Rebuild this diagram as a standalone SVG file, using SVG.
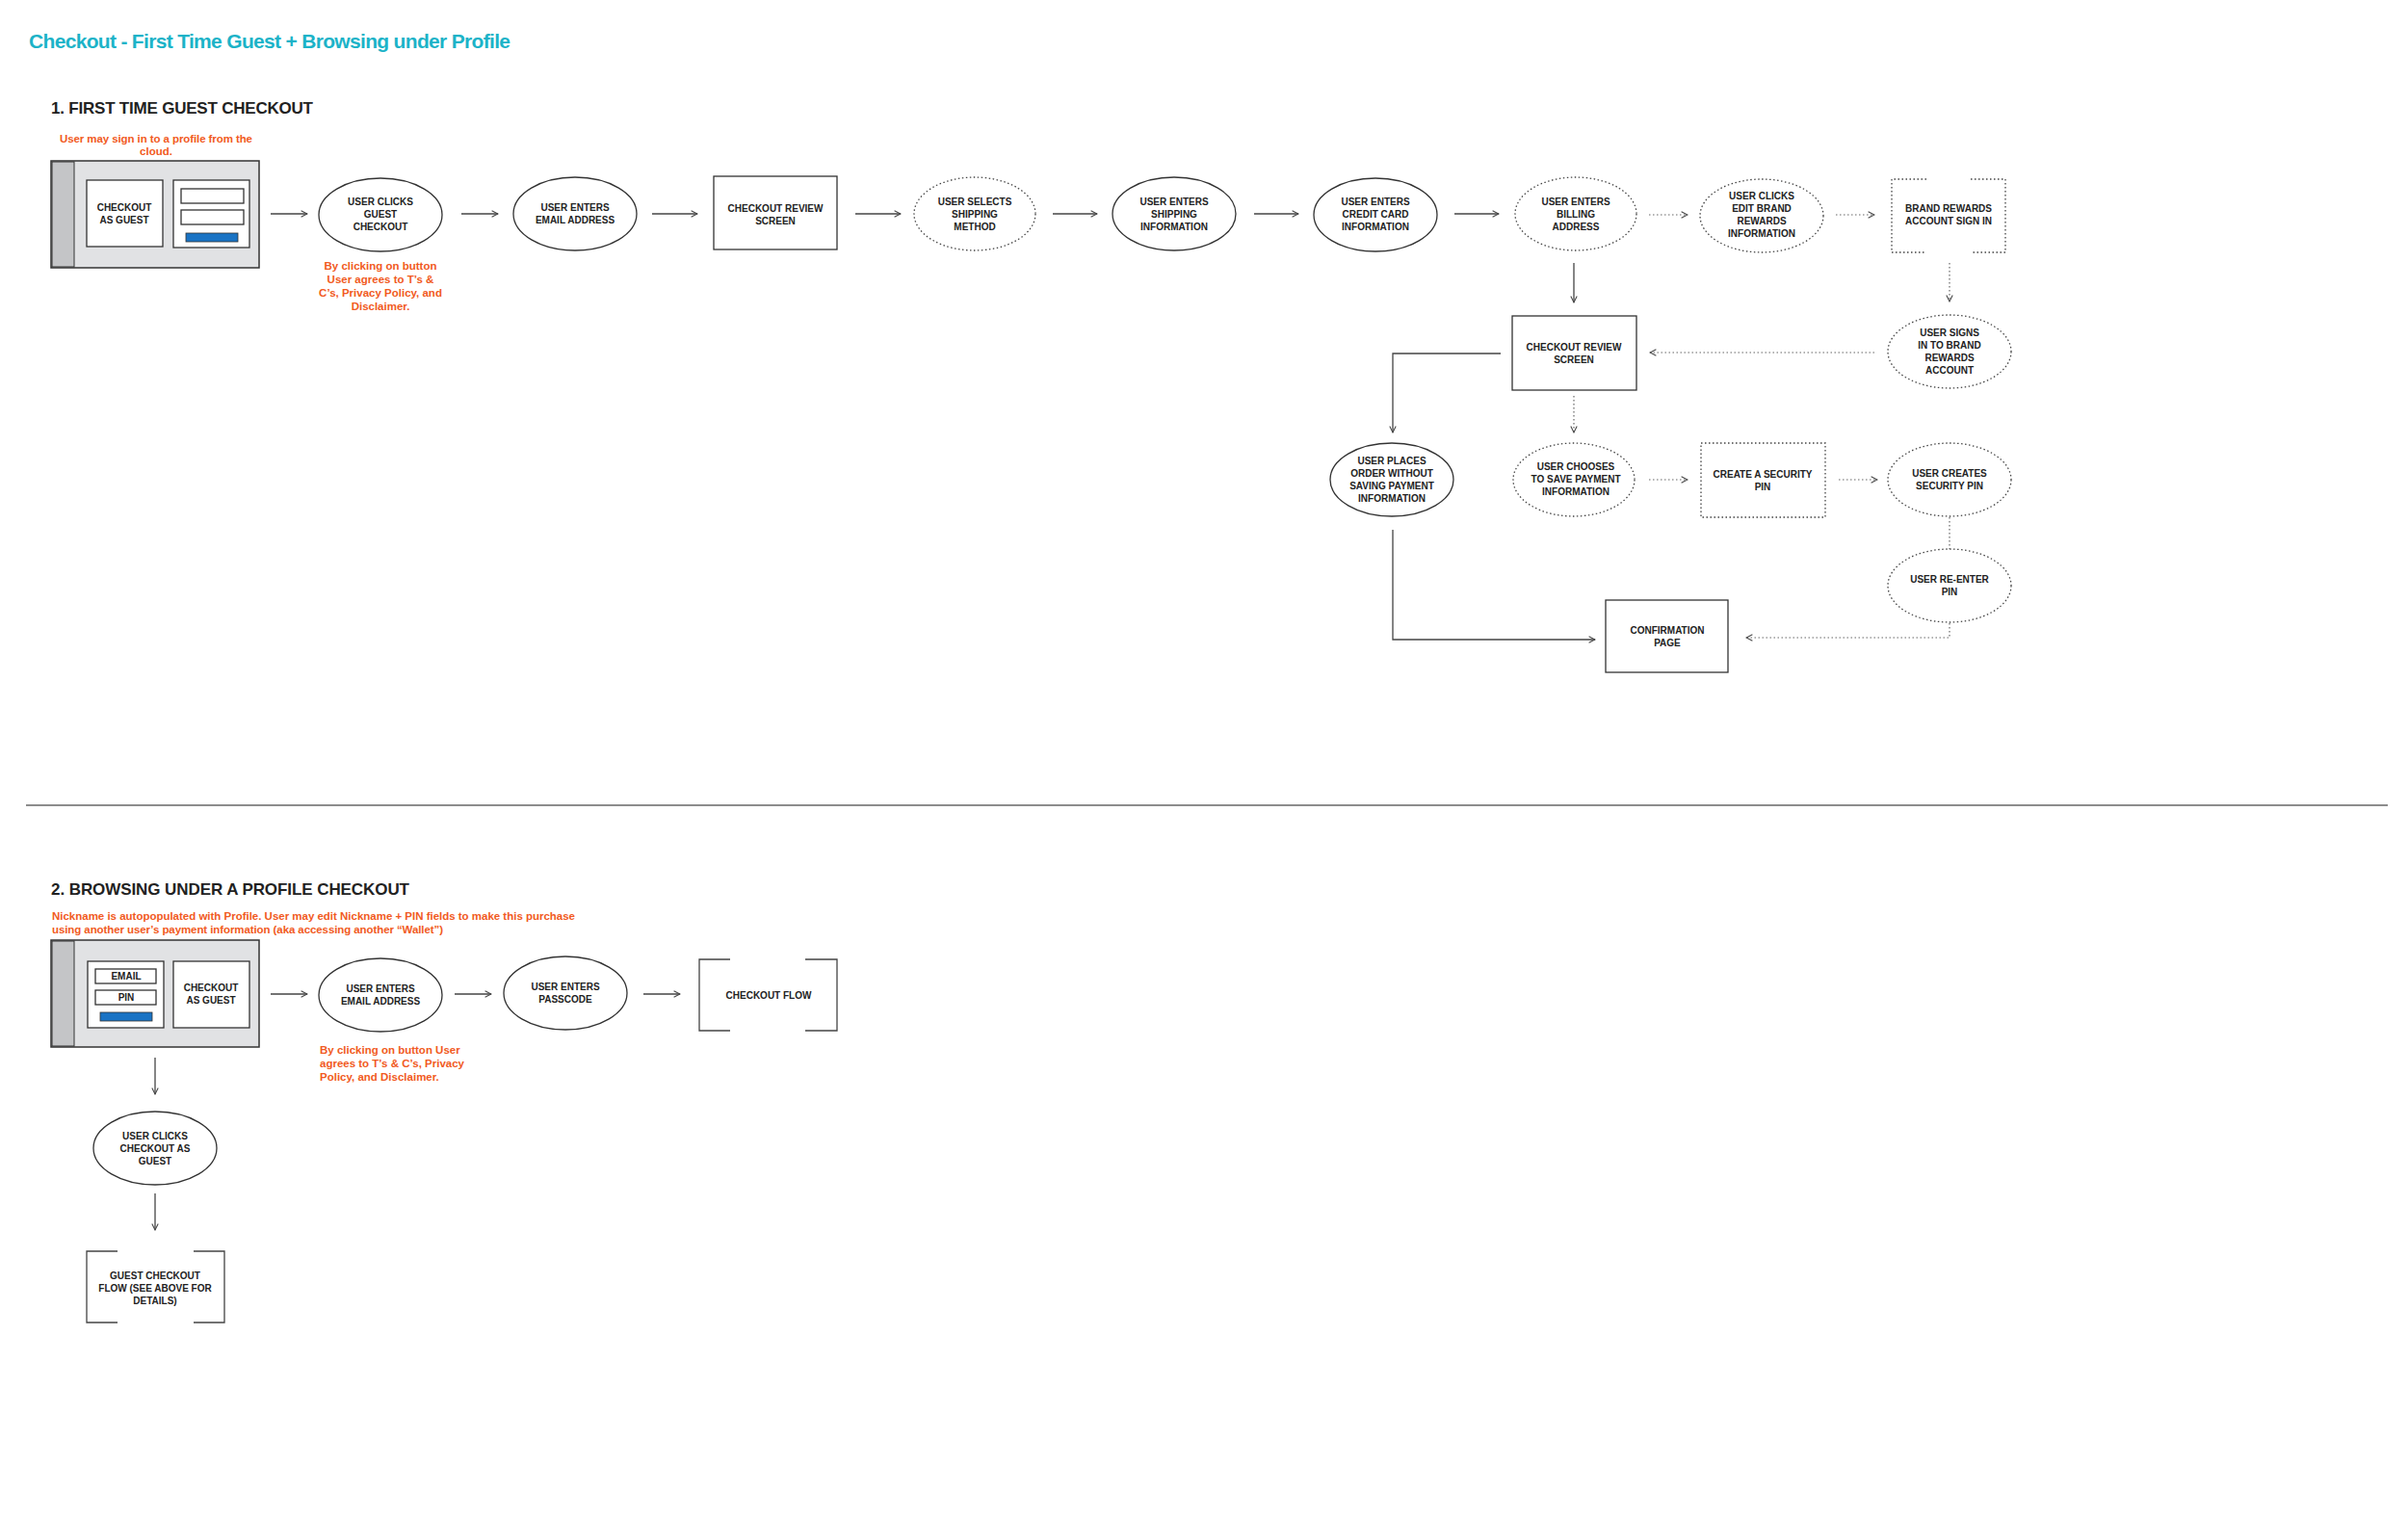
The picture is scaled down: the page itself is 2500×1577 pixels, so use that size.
<svg xmlns="http://www.w3.org/2000/svg" width="2500" height="1577" viewBox="0 0 2500 1577">
<defs>
<marker id="ah" viewBox="0 0 10 10" refX="9" refY="5" markerWidth="8" markerHeight="8" orient="auto" markerUnits="userSpaceOnUse"><path d="M1,1 L9,5 L1,9" fill="none" stroke="#444" stroke-width="1.3"/></marker>
</defs>
<style>
text{font-family:"Liberation Sans",Arial,sans-serif}
.n{font-size:10px;font-weight:bold;fill:#222;text-anchor:middle}
.o{font-size:11.5px;fill:#f15a22;font-weight:bold}
.s{fill:#fff;stroke:#333;stroke-width:1.3}
.d{fill:#fff;stroke:#444;stroke-width:1.3;stroke-dasharray:1.5 2.5}
.c{fill:none;stroke:#444;stroke-width:1.3}
.cd{fill:none;stroke:#666;stroke-width:1.2;stroke-dasharray:1.5 2.5}
.h{font-size:17px;fill:#222;font-weight:bold}
.g{fill:#e1e2e4;stroke:#333;stroke-width:1.5}
</style>
<rect width="2500" height="1577" fill="#fff"/>
<text x="30" y="50" font-size="21" fill="#1cb3c8" font-weight="bold" textLength="500">Checkout - First Time Guest + Browsing under Profile</text>
<text class="h" x="53" y="118" textLength="272">1. FIRST TIME GUEST CHECKOUT</text>
<text class="o" x="162" y="148" text-anchor="middle" textLength="200">User may sign in to a profile from the</text>
<text class="o" x="162" y="161" text-anchor="middle">cloud.</text>

<g id="mock1">
<rect class="g" x="53" y="167" width="216" height="111"/>
<rect x="54" y="168" width="23" height="109" fill="#c4c5c7" stroke="#333"/>
<rect class="s" x="90" y="187" width="79" height="69"/>
<text class="n" x="129" y="219">CHECKOUT</text><text class="n" x="129" y="232">AS GUEST</text>
<rect class="s" x="180" y="187" width="79" height="70"/>
<rect class="s" x="188" y="196" width="65" height="15"/>
<rect class="s" x="188" y="218" width="65" height="15"/>
<rect x="193" y="242" width="54" height="9" fill="#1a73c4" stroke="#333" stroke-width="0.8"/>
</g>
<g id="n1"><ellipse class="s" cx="395" cy="223" rx="64" ry="38"/><text class="n" x="395" y="213">USER CLICKS</text><text class="n" x="395" y="226">GUEST</text><text class="n" x="395" y="239">CHECKOUT</text></g>
<text class="o" x="395" y="280" text-anchor="middle">By clicking on button</text>
<text class="o" x="395" y="294" text-anchor="middle">User agrees to T’s &amp;</text>
<text class="o" x="395" y="308" text-anchor="middle">C’s, Privacy Policy, and</text>
<text class="o" x="395" y="322" text-anchor="middle">Disclaimer.</text>
<g id="n2"><ellipse class="s" cx="597" cy="222" rx="64" ry="38"/><text class="n" x="597" y="219">USER ENTERS</text><text class="n" x="597" y="232">EMAIL ADDRESS</text></g>
<g id="n3"><rect class="s" x="741" y="183" width="128" height="76"/><text class="n" x="805" y="220">CHECKOUT REVIEW</text><text class="n" x="805" y="233">SCREEN</text></g>
<g id="n4"><ellipse class="d" cx="1012" cy="222" rx="63" ry="38"/><text class="n" x="1012" y="213">USER SELECTS</text><text class="n" x="1012" y="226">SHIPPING</text><text class="n" x="1012" y="239">METHOD</text></g>
<g id="n5"><ellipse class="s" cx="1219" cy="222" rx="64" ry="38"/><text class="n" x="1219" y="213">USER ENTERS</text><text class="n" x="1219" y="226">SHIPPING</text><text class="n" x="1219" y="239">INFORMATION</text></g>
<g id="n6"><ellipse class="s" cx="1428" cy="223" rx="64" ry="38"/><text class="n" x="1428" y="213">USER ENTERS</text><text class="n" x="1428" y="226">CREDIT CARD</text><text class="n" x="1428" y="239">INFORMATION</text></g>
<g id="n7"><ellipse class="d" cx="1636" cy="222" rx="63" ry="38"/><text class="n" x="1636" y="213">USER ENTERS</text><text class="n" x="1636" y="226">BILLING</text><text class="n" x="1636" y="239">ADDRESS</text></g>
<g id="n8"><ellipse class="d" cx="1829" cy="224" rx="64" ry="38"/><text class="n" x="1829" y="207">USER CLICKS</text><text class="n" x="1829" y="220">EDIT BRAND</text><text class="n" x="1829" y="233">REWARDS</text><text class="n" x="1829" y="246">INFORMATION</text></g>
<g id="n9"><path class="d" fill="none" d="M2000,186 H1964 V262 H2000 M2046,186 H2082 V262 H2046"/><text class="n" x="2023" y="220">BRAND REWARDS</text><text class="n" x="2023" y="233">ACCOUNT SIGN IN</text></g>
<g id="n10"><ellipse class="d" cx="2024" cy="365" rx="64" ry="38"/><text class="n" x="2024" y="349">USER SIGNS</text><text class="n" x="2024" y="362">IN TO BRAND</text><text class="n" x="2024" y="375">REWARDS</text><text class="n" x="2024" y="388">ACCOUNT</text></g>
<g id="n11"><rect class="s" x="1570" y="328" width="129" height="77"/><text class="n" x="1634" y="364">CHECKOUT REVIEW</text><text class="n" x="1634" y="377">SCREEN</text></g>
<g id="n12"><ellipse class="s" cx="1445" cy="498" rx="64" ry="38"/><text class="n" x="1445" y="482">USER PLACES</text><text class="n" x="1445" y="495">ORDER WITHOUT</text><text class="n" x="1445" y="508">SAVING PAYMENT</text><text class="n" x="1445" y="521">INFORMATION</text></g>
<g id="n13"><ellipse class="d" cx="1634" cy="498" rx="63" ry="38"/><text class="n" x="1636" y="488">USER CHOOSES</text><text class="n" x="1636" y="501">TO SAVE PAYMENT</text><text class="n" x="1636" y="514">INFORMATION</text></g>
<g id="n14"><rect class="d" x="1766" y="460" width="129" height="77"/><text class="n" x="1830" y="496">CREATE A SECURITY</text><text class="n" x="1830" y="509">PIN</text></g>
<g id="n15"><ellipse class="d" cx="2024" cy="498" rx="64" ry="38"/><text class="n" x="2024" y="495">USER CREATES</text><text class="n" x="2024" y="508">SECURITY PIN</text></g>
<g id="n16"><ellipse class="d" cx="2024" cy="608" rx="64" ry="38"/><text class="n" x="2024" y="605">USER RE-ENTER</text><text class="n" x="2024" y="618">PIN</text></g>
<g id="n17"><rect class="s" x="1667" y="623" width="127" height="75"/><text class="n" x="1731" y="658">CONFIRMATION</text><text class="n" x="1731" y="671">PAGE</text></g>

<line x1="27" y1="836" x2="2479" y2="836" stroke="#666" stroke-width="1.5"/>
<text class="h" x="53" y="929" textLength="372">2. BROWSING UNDER A PROFILE CHECKOUT</text>
<text class="o" x="54" y="955" textLength="543">Nickname is autopopulated with Profile. User may edit Nickname + PIN fields to make this purchase</text>
<text class="o" x="54" y="969" textLength="406">using another user’s payment information (aka accessing another “Wallet”)</text>
<g id="mock2">
<rect class="g" x="53" y="976" width="216" height="111"/>
<rect x="54" y="977" width="23" height="109" fill="#c4c5c7" stroke="#333"/>
<rect class="s" x="91" y="998" width="79" height="69"/>
<rect class="s" x="99" y="1006" width="63" height="15"/><text class="n" x="131" y="1017" font-size="9">EMAIL</text>
<rect class="s" x="99" y="1028" width="63" height="15"/><text class="n" x="131" y="1039" font-size="9">PIN</text>
<rect x="104" y="1051" width="54" height="9" fill="#1a73c4" stroke="#333" stroke-width="0.8"/>
<rect class="s" x="180" y="998" width="79" height="69"/>
<text class="n" x="219" y="1029">CHECKOUT</text><text class="n" x="219" y="1042">AS GUEST</text>
</g>
<g id="m1"><ellipse class="s" cx="395" cy="1033" rx="64" ry="38"/><text class="n" x="395" y="1030">USER ENTERS</text><text class="n" x="395" y="1043">EMAIL ADDRESS</text></g>
<text class="o" x="332" y="1094">By clicking on button User</text>
<text class="o" x="332" y="1108">agrees to T’s &amp; C’s, Privacy</text>
<text class="o" x="332" y="1122">Policy, and Disclaimer.</text>
<g id="m2"><ellipse class="s" cx="587" cy="1031" rx="64" ry="38"/><text class="n" x="587" y="1028">USER ENTERS</text><text class="n" x="587" y="1041">PASSCODE</text></g>
<g id="m3"><path class="c" d="M758,996 H726 V1070 H758 M836,996 H869 V1070 H836"/><text class="n" x="798" y="1037">CHECKOUT FLOW</text></g>
<g id="m4"><ellipse class="s" cx="161" cy="1192" rx="64" ry="38"/><text class="n" x="161" y="1183">USER CLICKS</text><text class="n" x="161" y="1196">CHECKOUT AS</text><text class="n" x="161" y="1209">GUEST</text></g>
<g id="m5"><path class="c" d="M122,1299 H90 V1373 H122 M201,1299 H233 V1373 H201"/><text class="n" x="161" y="1328">GUEST CHECKOUT</text><text class="n" x="161" y="1341">FLOW (SEE ABOVE FOR</text><text class="n" x="161" y="1354">DETAILS)</text></g>

<g id="connectors">
<line class="c" x1="281" y1="222" x2="319" y2="222" marker-end="url(#ah)"/>
<line class="c" x1="479" y1="222" x2="517" y2="222" marker-end="url(#ah)"/>
<line class="c" x1="677" y1="222" x2="724" y2="222" marker-end="url(#ah)"/>
<line class="c" x1="888" y1="222" x2="935" y2="222" marker-end="url(#ah)"/>
<line class="c" x1="1093" y1="222" x2="1139" y2="222" marker-end="url(#ah)"/>
<line class="c" x1="1302" y1="222" x2="1348" y2="222" marker-end="url(#ah)"/>
<line class="c" x1="1510" y1="222" x2="1556" y2="222" marker-end="url(#ah)"/>
<line class="cd" x1="1712" y1="223" x2="1752" y2="223" marker-end="url(#ah)"/>
<line class="cd" x1="1906" y1="223" x2="1946" y2="223" marker-end="url(#ah)"/>
<line class="c" x1="1634" y1="273" x2="1634" y2="314" marker-end="url(#ah)"/>
<line class="cd" x1="2024" y1="273" x2="2024" y2="313" marker-end="url(#ah)"/>
<line class="cd" x1="1946" y1="366" x2="1713" y2="366" marker-end="url(#ah)"/>
<path class="c" d="M1558,367 H1446 V449" marker-end="url(#ah)"/>
<line class="cd" x1="1634" y1="411" x2="1634" y2="449" marker-end="url(#ah)"/>
<line class="cd" x1="1712" y1="498" x2="1752" y2="498" marker-end="url(#ah)"/>
<line class="cd" x1="1909" y1="498" x2="1949" y2="498" marker-end="url(#ah)"/>
<line class="cd" x1="2024" y1="537" x2="2024" y2="570"/>
<path class="cd" d="M2024,647 V662 H1813" marker-end="url(#ah)"/>
<path class="c" d="M1446,550 V664 H1656" marker-end="url(#ah)"/>
<line class="c" x1="281" y1="1032" x2="319" y2="1032" marker-end="url(#ah)"/>
<line class="c" x1="472" y1="1032" x2="510" y2="1032" marker-end="url(#ah)"/>
<line class="c" x1="668" y1="1032" x2="706" y2="1032" marker-end="url(#ah)"/>
<line class="c" x1="161" y1="1098" x2="161" y2="1136" marker-end="url(#ah)"/>
<line class="c" x1="161" y1="1239" x2="161" y2="1277" marker-end="url(#ah)"/>
</g>
</svg>
